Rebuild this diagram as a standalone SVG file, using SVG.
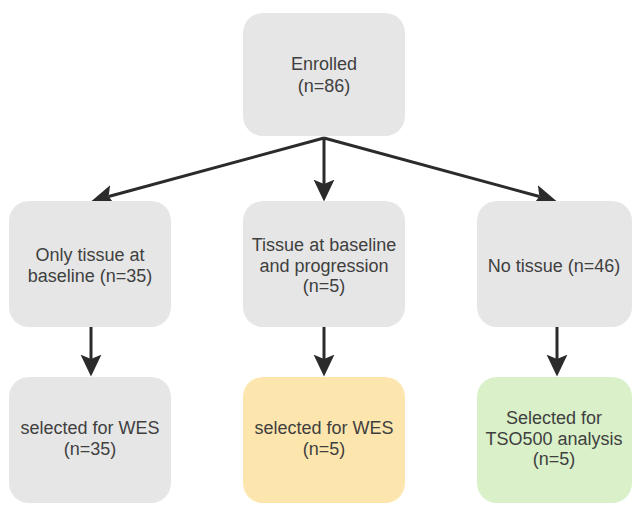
<svg xmlns="http://www.w3.org/2000/svg" width="634" height="510" viewBox="0 0 634 510">
<style>
.box{stroke:none}
.grey{fill:#e6e6e6}
.yellow{fill:#fde6ad}
.green{fill:#d9f0c8}
text{font-family:"Liberation Sans",Arial,sans-serif;font-size:18px;fill:#3f3f3f;text-anchor:middle}
.conn{stroke:#2b2b2b;stroke-width:3;fill:none;marker-end:url(#arr)}
</style>
<defs>
<marker id="arr" viewBox="0 0 20 20" refX="4" refY="10" markerWidth="22" markerHeight="22" markerUnits="userSpaceOnUse" orient="auto">
<path d="M0,0.5 L20,10 L0,19.5 L4,10 Z" fill="#2b2b2b"/>
</marker>
</defs>
<rect width="634" height="510" fill="#ffffff"/>
<g id="connectors">
<line class="conn" x1="324" y1="138" x2="108.6" y2="196.5"/>
<line class="conn" x1="324" y1="138" x2="324" y2="184"/>
<line class="conn" x1="324" y1="138" x2="539.4" y2="196.5"/>
<line class="conn" x1="91" y1="327" x2="91" y2="359"/>
<line class="conn" x1="324" y1="327" x2="324" y2="359"/>
<line class="conn" x1="557" y1="327" x2="557" y2="359"/>
</g>
<g id="enrolled">
<rect class="box grey" x="243" y="13" width="162" height="123" rx="20"/>
<text x="324" y="70">Enrolled</text>
<text x="324" y="92">(n=86)</text>
</g>
<g id="only-tissue">
<rect class="box grey" x="9" y="201" width="162" height="126" rx="20"/>
<text x="90" y="261">Only tissue at</text>
<text x="90" y="282">baseline (n=35)</text>
</g>
<g id="tissue-both">
<rect class="box grey" x="243" y="201" width="162" height="126" rx="20"/>
<text x="324" y="251">Tissue at baseline</text>
<text x="324" y="272">and progression</text>
<text x="324" y="292">(n=5)</text>
</g>
<g id="no-tissue">
<rect class="box grey" x="477" y="201" width="155" height="126" rx="20"/>
<text x="554" y="272">No tissue (n=46)</text>
</g>
<g id="wes-35">
<rect class="box grey" x="9" y="377" width="162" height="126" rx="20"/>
<text x="90" y="434">selected for WES</text>
<text x="90" y="455">(n=35)</text>
</g>
<g id="wes-5">
<rect class="box yellow" x="243" y="377" width="162" height="126" rx="20"/>
<text x="324" y="434">selected for WES</text>
<text x="324" y="455">(n=5)</text>
</g>
<g id="tso500">
<rect class="box green" x="477" y="377" width="155" height="126" rx="20"/>
<text x="554" y="424">Selected for</text>
<text x="554" y="445">TSO500 analysis</text>
<text x="554" y="465">(n=5)</text>
</g>
</svg>
